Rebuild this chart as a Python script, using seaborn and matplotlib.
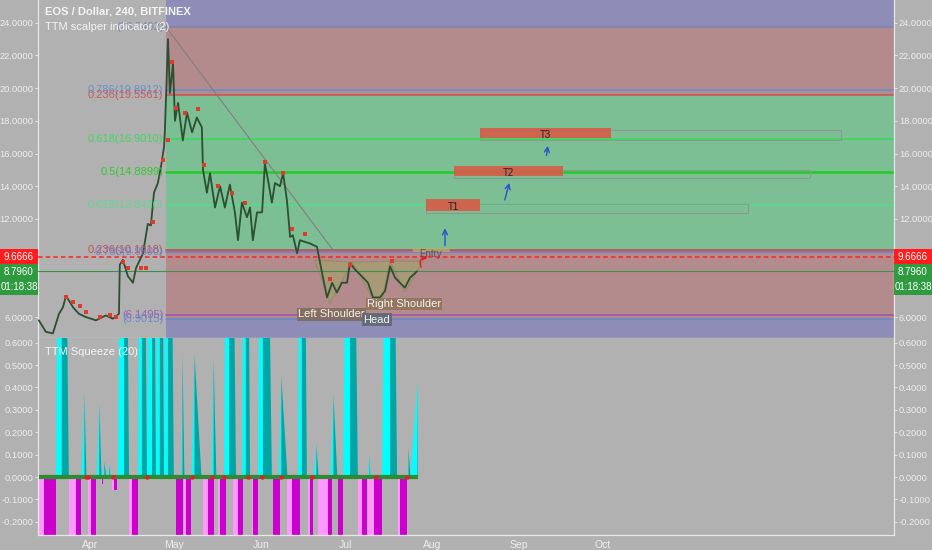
import matplotlib
matplotlib.use("Agg")
import matplotlib.pyplot as plt
from matplotlib.patches import Polygon, Rectangle, FancyArrowPatch
import seaborn as sns
import pandas as pd

# x axis is in days after 2018-03-13 (4h chart squeezed to day steps)
month_days = [19, 49, 80, 110, 141, 172, 202]
month_labels = ["Apr", "May", "Jun", "Jul", "Aug", "Sep", "Oct"]

# EOS price path
price_day = [0.7, 3.2, 5.7, 7.9, 9.3, 10.4, 12.9, 15.0, 17.5, 21.1, 24.6, 27.1, 29.3,
             29.6, 30.7, 32.5, 34.3, 35.4, 37.9, 39.6, 40.7, 41.8, 43.2, 44.3, 45.4,
             45.7, 46.8, 47.5, 48.6, 49.3, 50.4, 52.1, 53.6, 55.4, 57.1, 58.9, 59.3,
             60.7, 61.8, 63.6, 65.4, 67.1, 68.9, 70.7, 71.8, 73.2, 75.0, 76.1, 77.1,
             78.6, 80.4, 81.4, 82.5, 83.9, 85.0, 86.8, 87.9, 89.3, 90.4, 91.4, 92.9,
             93.9, 97.5, 100.0, 101.8, 103.6, 105.4, 107.1, 108.9, 110.7, 111.8,
             113.6, 115.4, 117.1, 118.2, 120.0, 122.5, 124.3, 126.1, 127.9, 129.6,
             131.4, 133.2, 135.7]
price_close = [5.8, 5.1, 5.0, 6.2, 6.6, 7.3, 6.6, 6.2, 6.0, 5.8, 6.1, 5.9, 6.2,
               9.2, 9.5, 8.5, 8.1, 9.0, 9.9, 11.7, 11.6, 13.6, 14.2, 15.2, 16.4,
               17.4, 23.0, 19.7, 21.5, 18.0, 19.1, 16.8, 18.5, 17.3, 18.2, 17.6, 15.0,
               13.6, 14.8, 12.7, 14.0, 12.7, 14.1, 12.4, 10.7, 13.0, 12.1, 12.7, 10.7,
               12.4, 12.4, 15.4, 14.4, 13.0, 14.2, 14.0, 14.8, 13.1, 10.9, 11.0, 9.9,
               10.7, 10.5, 10.3, 8.7, 7.2, 8.1, 7.5, 8.1, 8.1, 9.3,
               8.9, 8.6, 8.3, 8.1, 7.2, 7.2, 7.6, 9.1, 8.4, 8.1,
               7.8, 8.4, 8.8]

# red scalper marks
scalp_day = [10.4, 12.9, 15.4, 17.5, 22.5, 26.1, 28.2, 30.7, 32.5, 37.1, 38.9, 41.4,
             45.0, 46.8, 48.2, 49.6, 52.9, 57.5, 59.6, 64.6, 69.6, 74.3, 81.4, 87.9,
             91.1, 95.7, 104.6, 111.8, 126.8]
scalp_px = [7.2, 6.9, 6.7, 6.3, 6.0, 6.1, 6.0, 9.35, 9.0, 9.0, 9.0, 11.8,
            15.6, 16.8, 21.6, 18.8, 18.5, 18.7, 15.3, 14.0, 13.6, 13.0, 15.5, 14.8,
            11.4, 11.1, 8.3, 9.2, 9.4]

last_price = 9.6666
close_price = 8.7960

# fibonacci bands and lines
fib_start = 46.1
band_edges = [4.0, 5.9015, 10.1018, 19.5561, 23.7402, 26.0]
band_colors = ["#8d8db8", "#b48b8d", "#7dbf95", "#b48b8d", "#8d8db8"]
fib_levels = [23.7402, 19.8912, 19.5561, 16.9010, 14.8899, 12.8420, 10.1018, 9.9500, 6.1495, 5.9015]
fib_colors = ["#7a86a8", "#5b8fd6", "#d05050", "#33dd55", "#22cc22", "#55dd88",
              "#cc4444", "#6a7fd0", "#9a55aa", "#6688cc"]
fib_texts = ["(23.7402)", "0.786(19.8912)", "0.236(19.5561)", "0.618(16.9010)", "0.5(14.8899)",
             "0.618(12.8420)", "0.236(10.1018)", "0.786(9.9500)", "(6.1495)", "(5.9015)"]

# targets
tgt_names = ["T1", "T2", "T3"]
tgt_start = [138.9, 149.0, 158.2]
tgt_end = [158.2, 188.0, 205.0]
tgt_lo = [12.48, 14.62, 16.95]
tgt_hi = [13.22, 15.23, 17.56]
tgt_box_end = [253.9, 276.0, 287.0]
tgt_box_lo = [12.36, 14.49, 16.83]
tgt_box_hi = [12.91, 14.98, 17.44]

# inverse head and shoulders
hs_left = [(99.3, 9.48), (104.6, 6.85), (112.5, 9.36)]
hs_head = [(112.5, 9.36), (122.5, 6.43), (126.1, 9.42)]
hs_right = [(126.1, 9.42), (131.4, 7.53), (137.9, 9.42)]

# TTM squeeze: positive spikes (start, peak, end, value); 3.0 = runs off the top
pos_start = [6.8, 15.7, 21.1, 23.2, 25.0, 28.9, 36.1, 39.3, 42.5, 45.4, 51.4, 55.0, 62.1,
             66.8, 73.2, 78.9, 86.1, 93.2, 98.6, 104.6, 109.3, 117.9, 123.2, 132.1, 133.2]
pos_peak = [8.9, 16.8, 22.1, 23.9, 25.7, 31.1, 37.5, 41.1, 43.9, 46.8, 51.8, 56.1, 62.9,
            68.6, 74.6, 80.7, 87.1, 94.6, 99.6, 105.7, 111.8, 118.6, 126.1, 132.5, 135.7]
pos_end = [11.4, 17.5, 22.9, 24.6, 26.1, 32.9, 39.3, 42.5, 45.4, 48.9, 52.5, 58.6, 63.9,
           71.1, 76.1, 83.9, 89.3, 96.4, 100.4, 107.1, 114.6, 118.9, 128.6, 133.2, 135.9]
pos_val = [3.0, 0.38, 0.33, 0.07, 0.06, 3.0, 3.0, 3.0, 3.0, 3.0, 0.55, 0.55, 0.53,
           3.0, 3.0, 3.0, 0.45, 3.0, 0.15, 0.37, 3.0, 0.1, 3.0, 0.13, 0.43]
# negative blocks (start, mid, end, value)
neg_start = [0.7, 11.4, 18.2, 22.9, 26.8, 32.9, 49.6, 52.5, 59.3, 64.6, 70.0, 76.8,
             84.3, 89.3, 96.8, 100.4, 107.5, 114.6, 118.2, 128.9]
neg_mid = [2.5, 13.9, 19.3, 23.2, 27.6, 33.9, 49.6, 53.2, 61.1, 65.4, 71.8, 77.1,
           84.3, 91.1, 97.5, 103.8, 107.5, 116.1, 120.4, 129.6]
neg_end = [6.8, 15.7, 21.1, 23.6, 28.6, 36.1, 52.1, 55.0, 63.2, 67.5, 73.6, 78.9,
           86.8, 93.9, 98.6, 105.4, 109.3, 117.9, 123.2, 132.1]
neg_val = [-0.4, -0.4, -0.4, -0.03, -0.06, -0.4, -0.4, -0.4, -0.4, -0.4, -0.4, -0.4,
           -0.4, -0.4, -0.4, -0.4, -0.4, -0.4, -0.4, -0.4]
sq_red_dots = [17.5, 18.2, 27.1, 39.3, 55.4, 62.5, 66.8, 75.4, 80.4, 87.1, 98.2, 121.0, 132.1]

W, H = 932, 550
BG = "#b1b1b1"
TXT = "#eeeeee"

sns.set_theme(style="dark", rc={"axes.facecolor": BG, "figure.facecolor": BG})
plt.rcParams["font.family"] = ["Liberation Sans", "DejaVu Sans"]

fig = plt.figure(figsize=(W / 100, H / 100), dpi=100)
ax1 = fig.add_axes([38 / W, 212 / H, 856 / W, 338 / H])
ax2 = fig.add_axes([38 / W, 15 / H, 856 / W, 197 / H], sharex=ax1)

xmax = 306
ax1.set_xlim(0.4, xmax)
ax1.set_ylim(4.72, 25.39)
ax2.set_ylim(-0.259, 0.621)

# fib bands
for lo, hi, c in zip(band_edges[:-1], band_edges[1:], band_colors):
    ax1.fill_between([fib_start, xmax], lo, hi, color=c, lw=0, zorder=0)
for lv, c, t in zip(fib_levels, fib_colors, fib_texts):
    ax1.plot([fib_start, xmax], [lv, lv], color=c, lw=1.8 if "14.8" in t else 1.1, zorder=1)
    ax1.text(45.2, lv, t, ha="right", va="center", fontsize=8, color=c, alpha=0.9, zorder=5)

# trendline from the top
ax1.plot([46.1, 105.7], [23.74, 10.1], color="#7f7f7f", lw=0.8, zorder=2)

# last price / close lines
ax1.axhline(last_price, color="#ff2222", lw=1.1, ls=(0, (3, 2)), zorder=3)
ax1.axhline(close_price, color="#3f8f4f", lw=0.8, zorder=3)

# head and shoulders
for pts in (hs_left, hs_head, hs_right):
    ax1.add_patch(Polygon(pts, closed=True, fc="#a4a070", ec="#8f8a5a", alpha=0.75, lw=0.8, zorder=2))

# price
df = pd.DataFrame({"day": price_day, "close": price_close})
sns.lineplot(data=df, x="day", y="close", ax=ax1, color="#2b4f30", lw=1.3,
             sort=False, estimator=None, zorder=4)
sns.scatterplot(x=scalp_day, y=scalp_px, ax=ax1, color="#e03a2a", marker="s", s=7,
                linewidth=0, zorder=5)

# pattern labels
lbl = dict(fontsize=8, color="#f2f2f2", ha="center", va="center", zorder=6)
ax1.text(105.2, 6.17, "Left Shoulder", bbox=dict(boxstyle="square,pad=0.12", fc="#7f6a58", ec="none", alpha=0.85), **lbl)
ax1.text(121.4, 5.85, "Head", bbox=dict(boxstyle="square,pad=0.12", fc="#5f6a72", ec="none", alpha=0.9), **lbl)
ax1.text(131.1, 6.79, "Right Shoulder", bbox=dict(boxstyle="square,pad=0.12", fc="#8f7358", ec="none", alpha=0.85), **lbl)

# entry
ax1.add_patch(Rectangle((134.3, 10.0), 13.2, 0.22, fc="#b4b46a", ec="none", alpha=0.7, zorder=3))
ax1.text(140.5, 9.85, "Entry", fontsize=7, color="#555555", ha="center", va="center", zorder=6)
ax1.add_patch(FancyArrowPatch((137.5, 8.9), (140.5, 9.6), connectionstyle="arc3,rad=-0.9",
                              arrowstyle="->", mutation_scale=6, color="#e02020", lw=1.1, zorder=6))

# targets
for n, s, e, lo, hi, be, blo, bhi in zip(tgt_names, tgt_start, tgt_end, tgt_lo, tgt_hi,
                                         tgt_box_end, tgt_box_lo, tgt_box_hi):
    ax1.add_patch(Rectangle((s, blo), be - s, bhi - blo, fc="none", ec="#8a9a90", lw=0.8, zorder=3))
    ax1.add_patch(Rectangle((s, lo), e - s, hi - lo, fc="#d65c48", ec="none", alpha=0.9, zorder=4))
    ax1.text((s + e) / 2 if n != "T1" else 148.6, (lo + hi) / 2 - 0.1, n, fontsize=7,
             color="#222222", ha="center", va="center", zorder=6)

arrows = [((145.7, 10.2), (145.7, 11.6)), ((166.8, 13.0), (168.9, 14.37)), ((181.8, 15.72), (182.5, 16.64))]
for a, b in arrows:
    ax1.add_patch(FancyArrowPatch(a, b, arrowstyle="->", mutation_scale=9, color="#2a4fd0", lw=1.0, zorder=6))

# squeeze
for s, p, e, v in zip(pos_start, pos_peak, pos_end, pos_val):
    ax2.fill_between([s, p], [0, v], color="#00ffff", lw=0, zorder=2)
    ax2.fill_between([p, e], [v, 0], color="#00a6a6", lw=0, zorder=2)
for s, m, e, v in zip(neg_start, neg_mid, neg_end, neg_val):
    ax2.fill_between([s, m], v, 0, color="#ff99ff", lw=0, zorder=2)
    ax2.fill_between([m, e], v, 0, color="#cc00cc", lw=0, zorder=2)
ax2.hlines(0, price_day[0], pos_end[-1], color="#2e8b2e", lw=3, zorder=3)
sns.scatterplot(x=sq_red_dots, y=[0] * len(sq_red_dots), ax=ax2, color="#e02020", s=10,
                linewidth=0, zorder=4)

# axes styling
ax1.set_yticks(range(6, 25, 2))
ax1.set_yticklabels([f"{v:.4f}" for v in range(6, 25, 2)])
sq_ticks = [-0.2, -0.1, 0.0, 0.1, 0.2, 0.3, 0.4, 0.5, 0.6]
ax2.set_yticks(sq_ticks)
ax2.set_yticklabels([f"{v:.4f}" for v in sq_ticks])
ax2.set_xticks(month_days)
ax2.set_xticklabels(month_labels)
for ax in (ax1, ax2):
    ax.set_xlabel("")
    ax.set_ylabel("")
    ax.grid(False)
    ax.tick_params(axis="y", left=True, right=True, labelleft=True, labelright=True,
                   colors=TXT, labelsize=6.7, length=2.5, width=0.6, pad=1)
    for sp in ax.spines.values():
        sp.set_visible(True)
        sp.set_color("#e8e8e8")
        sp.set_linewidth(0.9)
ax1.tick_params(axis="x", bottom=False, labelbottom=False)
ax2.tick_params(axis="x", colors=TXT, labelsize=7.5, length=3, width=0.6, pad=0.5)
ax1.spines["top"].set_visible(False)
ax2.spines["top"].set_visible(False)

# header texts
ax1.text(7 / 856, 1 - 12 / 338, "EOS / Dollar, 240, BITFINEX", transform=ax1.transAxes,
         fontsize=8, color="#f4f4f4", fontweight="bold", va="center", zorder=7)
ax1.text(7 / 856, 1 - 27 / 338, "TTM scalper indicator (2)", transform=ax1.transAxes,
         fontsize=8, color="#f4f4f4", va="center", zorder=7)
ax2.text(7 / 856, 1 - 14 / 197, "TTM Squeeze (20)", transform=ax2.transAxes,
         fontsize=8, color="#f4f4f4", va="center", zorder=7)

# price tags on both scales
tags = [(249, 265, "9.6666", "#ff1c1c"), (264, 280, "8.7960", "#2f9a3f"), (280, 295, "01:18:38", "#2f9a3f")]
for y0, y1, t, c in tags:
    for x0 in (0, 894):
        fig.patches.append(Rectangle((x0 / W, 1 - y1 / H), 38 / W, (y1 - y0) / H,
                                     transform=fig.transFigure, fc=c, ec="none", zorder=9))
        fig.text((x0 + 19) / W, 1 - (y0 + y1) / 2 / H, t, ha="center", va="center",
                 fontsize=7, color="white", zorder=10)

fig.savefig("out.png", dpi=100, facecolor=BG)
